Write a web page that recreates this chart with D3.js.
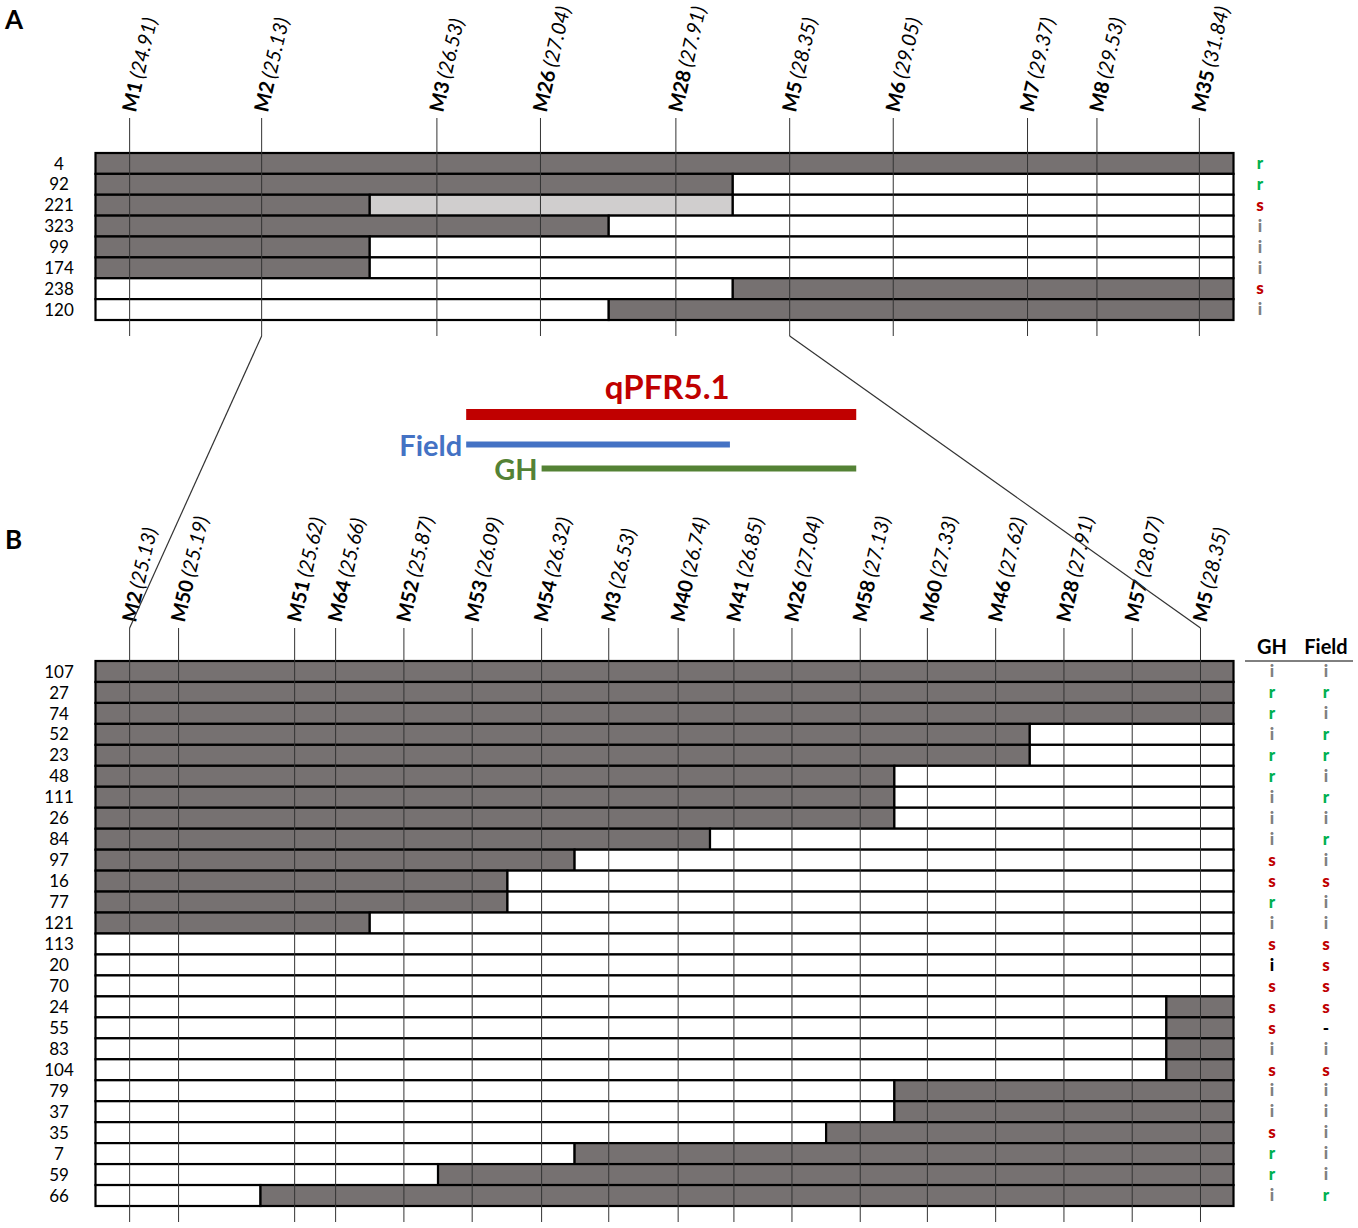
<!DOCTYPE html>
<html>
<head>
<meta charset="utf-8">
<script src="https://cdn.jsdelivr.net/npm/d3@7"></script>
<style>
  html, body { margin: 0; padding: 0; background: #fff; }
  svg { display: block; font-family: Lato, "Open Sans", sans-serif; }
</style>
</head>
<body>
<svg id="chart" width="1358" height="1228"></svg>
<script>
// ---------------- DATA ----------------
// Panel A markers, map position (label value) and schematic position along the bar (0-100)
const markersA = ["M1", "M2", "M3", "M26", "M28", "M5", "M6", "M7", "M8", "M35"];
const posA     = [24.91, 25.13, 26.53, 27.04, 27.91, 28.35, 29.05, 29.37, 29.53, 31.84];
const slotA    = [3.0, 14.6, 30.0, 39.1, 51.0, 61.0, 70.1, 81.9, 88.0, 97.0];

const linesA = ["4", "92", "221", "323", "99", "174", "238", "120"];
// genotype runs per line: [genotype, end of run on schematic axis]
const genoA = [
  [["a", 100]],
  [["a", 56.0], ["b", 100]],
  [["a", 24.1], ["h", 56.0], ["b", 100]],
  [["a", 45.1], ["b", 100]],
  [["a", 24.1], ["b", 100]],
  [["a", 24.1], ["b", 100]],
  [["b", 56.0], ["a", 100]],
  [["b", 45.1], ["a", 100]]
];
const phenoA = ["r", "r", "s", "i", "i", "i", "s", "i"];

// Panel B
const markersB = ["M2", "M50", "M51", "M64", "M52", "M53", "M54", "M3", "M40", "M41", "M26", "M58", "M60", "M46", "M28", "M57", "M5"];
const posB     = [25.13, 25.19, 25.62, 25.66, 25.87, 26.09, 26.32, 26.53, 26.74, 26.85, 27.04, 27.13, 27.33, 27.62, 27.91, 28.07, 28.35];
const slotB    = [3.0, 7.3, 17.5, 21.1, 27.1, 33.1, 39.2, 45.1, 51.2, 56.1, 61.2, 67.2, 73.1, 79.1, 85.1, 91.1, 97.1];

const linesB = ["107", "27", "74", "52", "23", "48", "111", "26", "84", "97", "16", "77", "121",
                "113", "20", "70", "24", "55", "83", "104", "79", "37", "35", "7", "59", "66"];
const genoB = [
  [["a", 100]], [["a", 100]], [["a", 100]],
  [["a", 82.1], ["b", 100]], [["a", 82.1], ["b", 100]],
  [["a", 70.2], ["b", 100]], [["a", 70.2], ["b", 100]], [["a", 70.2], ["b", 100]],
  [["a", 54.0], ["b", 100]],
  [["a", 42.1], ["b", 100]],
  [["a", 36.2], ["b", 100]], [["a", 36.2], ["b", 100]],
  [["a", 24.1], ["b", 100]],
  [["b", 100]], [["b", 100]], [["b", 100]],
  [["b", 94.1], ["a", 100]], [["b", 94.1], ["a", 100]], [["b", 94.1], ["a", 100]], [["b", 94.1], ["a", 100]],
  [["b", 70.2], ["a", 100]], [["b", 70.2], ["a", 100]],
  [["b", 64.2], ["a", 100]],
  [["b", 42.1], ["a", 100]],
  [["b", 30.1], ["a", 100]],
  [["b", 14.5], ["a", 100]]
];
// phenotype calls: r resistant, s susceptible, i intermediate, n intermediate (uncertain), - missing
const phenoGH    = ["i","r","r","i","r","r","i","i","i","s","s","r","i","s","n","s","s","s","i","s","i","i","s","r","r","i"];
const phenoField = ["i","r","i","r","r","i","r","i","r","i","s","i","i","s","s","s","s","-","i","s","i","i","i","i","i","r"];

// QTL intervals (marker names in panel B)
const qtlNames = ["qPFR5.1", "Field", "GH"];
const qtlFrom  = ["M53", "M53", "M54"];
const qtlTo    = ["M58", "M41", "M58"];

// ---------------- STYLE ----------------
const genoFill = { a: "#767171", h: "#d0cece", b: "#ffffff" };
const phenoStyle = {
  r: { t: "r", c: "#00b050" },
  s: { t: "s", c: "#c00000" },
  i: { t: "i", c: "#808080" },
  n: { t: "i", c: "#000000" },
  "-": { t: "-", c: "#000000" }
};
const qtlColor = ["#c00000", "#4472c4", "#548235"];

const svg = d3.select("#chart");
const x = d3.scaleLinear().domain([0, 100]).range([95.5, 1233.5]);

function drawPanel(opts) {
  const g = svg.append("g");
  const y = d3.scaleBand().domain(opts.lines).range([opts.top, opts.bottom]);
  const mx = d3.scaleOrdinal().domain(opts.markers).range(opts.slots.map(s => x(s)));

  // genotype segments
  opts.lines.forEach((ln, i) => {
    let start = 0;
    const segs = opts.geno[i].map(([code, end]) => { const s = { code, start, end }; start = end; return s; });
    g.selectAll(null).data(segs).enter().append("rect")
      .attr("x", d => x(d.start))
      .attr("y", y(ln))
      .attr("width", d => x(d.end) - x(d.start))
      .attr("height", y.bandwidth())
      .attr("fill", d => genoFill[d.code])
      .attr("stroke", "#000")
      .attr("stroke-width", 2.2);
  });

  // marker lines
  g.selectAll(".mline").data(opts.markers).enter().append("line")
    .attr("x1", d => mx(d)).attr("x2", d => mx(d))
    .attr("y1", opts.lineTop).attr("y2", opts.lineBottom)
    .attr("stroke", "#333").attr("stroke-width", 1);

  // marker labels
  const lab = g.selectAll(".mlab").data(opts.markers).enter().append("text")
    .attr("transform", d => `translate(${mx(d) + 6},${opts.labelY}) rotate(-77)`)
    .attr("font-size", 20)
    .attr("fill", "#000");
  lab.append("tspan").attr("font-weight", "bold").text(d => d);
  lab.append("tspan").attr("font-style", "italic").attr("dx", 4)
    .text((d, i) => `(${opts.pos[i].toFixed(2)})`);

  // line labels
  g.selectAll(".rlab").data(opts.lines).enter().append("text")
    .attr("x", 59).attr("y", d => y(d) + y.bandwidth() / 2)
    .attr("dy", "0.36em")
    .attr("text-anchor", "middle")
    .attr("font-size", 17)
    .text(d => d);

  // phenotype columns
  opts.pheno.forEach(col => {
    g.selectAll(null).data(col.values).enter().append("text")
      .attr("x", col.x)
      .attr("y", (d, i) => y(opts.lines[i]) + y.bandwidth() / 2)
      .attr("dy", "0.34em")
      .attr("text-anchor", "middle")
      .attr("font-size", 17)
      .attr("font-weight", 900)
      .attr("fill", d => phenoStyle[d].c)
      .text(d => phenoStyle[d].t);
  });

  return { y, mx };
}

const A = drawPanel({
  markers: markersA, pos: posA, slots: slotA, lines: linesA, geno: genoA,
  top: 153, bottom: 320, lineTop: 118, lineBottom: 336, labelY: 113,
  pheno: [{ x: 1260, values: phenoA }]
});

const B = drawPanel({
  markers: markersB, pos: posB, slots: slotB, lines: linesB, geno: genoB,
  top: 661, bottom: 1206, lineTop: 628, lineBottom: 1222, labelY: 623,
  pheno: [{ x: 1272, values: phenoGH }, { x: 1326, values: phenoField }]
});

// column headers
svg.append("text").attr("x", 1272).attr("y", 654).attr("text-anchor", "middle")
  .attr("font-size", 20).attr("font-weight", "bold").text("GH");
svg.append("text").attr("x", 1326).attr("y", 654).attr("text-anchor", "middle")
  .attr("font-size", 20).attr("font-weight", "bold").text("Field");
svg.append("line").attr("x1", 1245).attr("x2", 1353).attr("y1", 661).attr("y2", 661)
  .attr("stroke", "#000").attr("stroke-width", 1);

// zoom connector lines
[["M2", "M2"], ["M5", "M5"]].forEach(([ma, mb]) => {
  svg.append("line")
    .attr("x1", A.mx(ma)).attr("y1", 336)
    .attr("x2", B.mx(mb)).attr("y2", 628)
    .attr("stroke", "#333").attr("stroke-width", 1.2);
});

// QTL bars
const qtlY = [414.5, 444.5, 468.5];
const qtlW = [11, 6, 6];
qtlNames.forEach((name, i) => {
  const x1 = B.mx(qtlFrom[i]) - (i < 2 ? 6 : 0), x2 = B.mx(qtlTo[i]) - 4;
  svg.append("rect")
    .attr("x", x1).attr("y", qtlY[i] - qtlW[i] / 2)
    .attr("width", x2 - x1).attr("height", qtlW[i])
    .attr("fill", qtlColor[i]);
  if (i === 0) {
    svg.append("text").attr("x", (x1 + x2) / 2 + 6).attr("y", 399)
      .attr("text-anchor", "middle").attr("font-size", 33).attr("font-weight", "bold")
      .attr("fill", qtlColor[i]).text(name);
  } else {
    svg.append("text").attr("x", x1 - 4).attr("y", qtlY[i] + 11)
      .attr("text-anchor", "end").attr("font-size", 29).attr("font-weight", "bold")
      .attr("fill", qtlColor[i]).text(name);
  }
});

// panel letters
svg.append("text").attr("x", 5).attr("y", 29).attr("font-size", 26).attr("font-weight", "bold").text("A");
svg.append("text").attr("x", 5).attr("y", 549).attr("font-size", 26).attr("font-weight", "bold").text("B");
</script>
</body>
</html>
